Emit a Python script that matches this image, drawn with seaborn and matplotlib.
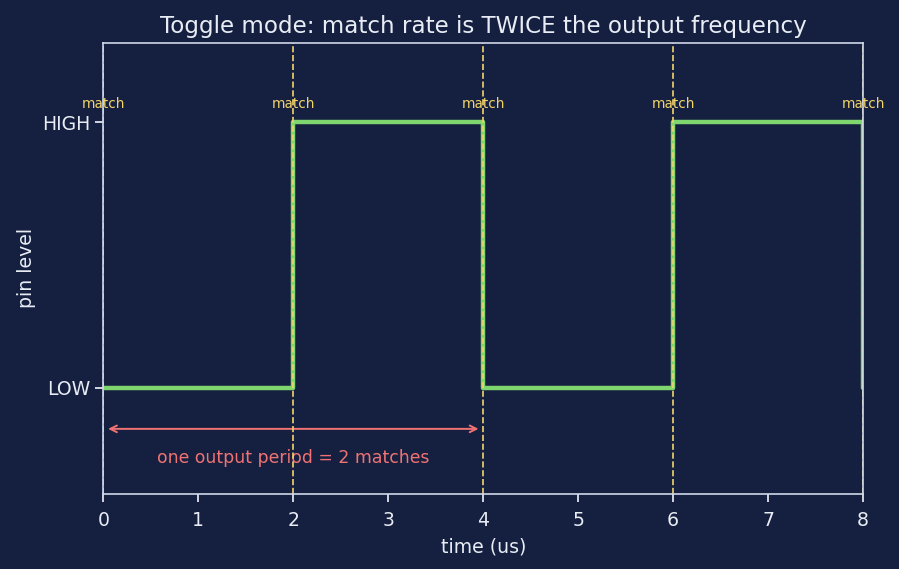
import pandas as pd
import matplotlib
matplotlib.use("Agg")
import matplotlib.pyplot as plt
import seaborn as sns

# ------------------------------
# Data
# ------------------------------
match_times = [0, 2, 4, 6, 8]
pin_levels = [0, 1, 0, 1, 0]
level_labels = ["LOW", "HIGH"]

bg = "#152040"
fg = "#e8ecf4"
green = "#7fd66f"
yellow = "#f2d36b"
red = "#f07272"

df = pd.DataFrame({"time": match_times, "level": pin_levels})

# ------------------------------
# Plot
# ------------------------------
sns.set_theme(style="dark")
plt.rcParams['font.family'] = ['DejaVu Sans']
fig, ax = plt.subplots(figsize=(8.99, 5.69), dpi=100)
fig.patch.set_facecolor(bg)
ax.set_facecolor(bg)

sns.lineplot(data=df, x="time", y="level", drawstyle="steps-post",
             color=green, linewidth=3.2, ax=ax, zorder=3)

for t in match_times:
    ax.axvline(t, color=yellow, linestyle="--", linewidth=1.2, zorder=4)
    ax.text(t, 1.07, "match", color=yellow, fontsize=9.8, ha="center", va="center")

ax.annotate("", xy=(0.02, -0.155), xytext=(3.98, -0.155),
            arrowprops=dict(arrowstyle="<->", color=red, lw=1.4))
ax.text(2.0, -0.265, "one output period = 2 matches", color=red,
        fontsize=12.4, ha="center", va="center")

ax.set_xlim(0, 8)
ax.set_ylim(-0.4, 1.3)
ax.set_yticks([0, 1])
ax.set_yticklabels(level_labels)
ax.set_xticks(range(0, 9))
ax.grid(False)

ax.set_title("Toggle mode: match rate is TWICE the output frequency", color=fg,
             fontsize=16.6, pad=7)
ax.set_xlabel("time (us)", color=fg, fontsize=13.6, labelpad=6)
ax.set_ylabel("pin level", color=fg, fontsize=13.6)
ax.tick_params(colors=fg, labelsize=13.6, length=6, bottom=True, left=True)
ax.tick_params(axis="x", pad=6)
for s in ax.spines.values():
    s.set_color("#d0d8e8")
    s.set_linewidth(1.2)
    s.set_zorder(5)

plt.subplots_adjust(left=0.115, right=0.96, top=0.925, bottom=0.132)
plt.savefig("out.png", dpi=100, facecolor=bg)
